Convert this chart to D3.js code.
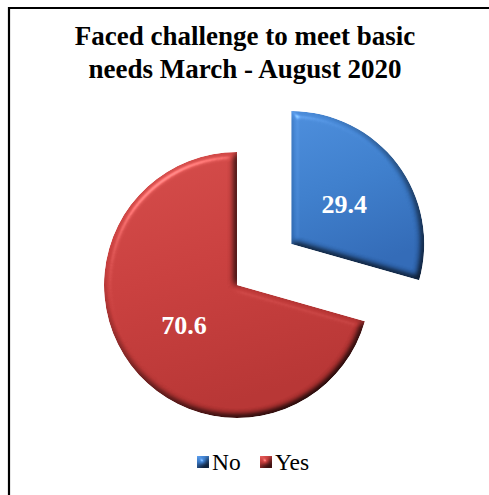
<!DOCTYPE html>
<html>
<head>
<meta charset="utf-8">
<script src="https://cdn.jsdelivr.net/npm/d3@7"></script>
<style>
  html, body { margin: 0; padding: 0; background: #fff; }
  svg { display: block; }
</style>
</head>
<body>
<svg id="chart" width="489" height="495"></svg>
<script>
// Survey answers and their shares (percent)
const categories = ["No", "Yes"];
const values = [29.4, 70.6];
const titleLines = ["Faced challenge to meet basic", "needs March - August 2020"];

const baseColors = { No: "#3c7cc9", Yes: "#c63d3c" };
const lightColors = { No: "#4a8bd9", Yes: "#d24a48" };
const darkColors = { No: "#3068b4", Yes: "#b43332" };

const svg = d3.select("#chart");
const W = 489, H = 495;
svg.append("rect").attr("width", W).attr("height", H).attr("fill", "#fff");

const defs = svg.append("defs");

// Soft bevel: blurred alpha as a height map; flat areas keep their colour,
// slopes facing the upper-left light brighten, the others darken.
const bevel = defs.append("filter").attr("id", "bevel")
  .attr("x", "-10%").attr("y", "-10%").attr("width", "120%").attr("height", "120%")
  .attr("color-interpolation-filters", "sRGB");
bevel.append("feGaussianBlur").attr("in", "SourceAlpha").attr("stdDeviation", 3.5).attr("result", "blur");
const diff = bevel.append("feDiffuseLighting").attr("in", "blur").attr("surfaceScale", 5)
  .attr("diffuseConstant", 1).attr("lighting-color", "#ffffff").attr("result", "diff");
diff.append("feDistantLight").attr("azimuth", 235).attr("elevation", 60);
// normalise so a flat surface gives 1.0
const norm = bevel.append("feComponentTransfer").attr("in", "diff").attr("result", "diffN");
["feFuncR", "feFuncG", "feFuncB"].forEach(f =>
  norm.append(f).attr("type", "linear").attr("slope", 1.155).attr("intercept", 0));
bevel.append("feComposite").attr("in", "SourceGraphic").attr("in2", "diffN")
  .attr("operator", "arithmetic").attr("k1", 1).attr("k2", 0).attr("k3", 0).attr("k4", 0).attr("result", "lit");
const spec = bevel.append("feSpecularLighting").attr("in", "blur").attr("surfaceScale", 5)
  .attr("specularConstant", 0.6).attr("specularExponent", 30).attr("lighting-color", "#ffffff").attr("result", "spec");
spec.append("feDistantLight").attr("azimuth", 235).attr("elevation", 40);
bevel.append("feComposite").attr("in", "spec").attr("in2", "SourceAlpha").attr("operator", "in").attr("result", "specIn");
bevel.append("feComposite").attr("in", "lit").attr("in2", "specIn")
  .attr("operator", "arithmetic").attr("k1", 0).attr("k2", 1).attr("k3", 0.45).attr("k4", 0).attr("result", "shaded");
bevel.append("feComposite").attr("in", "shaded").attr("in2", "SourceAlpha").attr("operator", "in");

// Gradients per category
categories.forEach(c => {
  const g = defs.append("linearGradient").attr("id", "grad-" + c)
    .attr("x1", 0).attr("y1", 0).attr("x2", 0.3).attr("y2", 1);
  g.append("stop").attr("offset", "0%").attr("stop-color", lightColors[c]);
  g.append("stop").attr("offset", "50%").attr("stop-color", baseColors[c]);
  g.append("stop").attr("offset", "100%").attr("stop-color", darkColors[c]);
});

// Frame (top and left edges)
svg.append("path")
  .attr("d", `M9,${H + 5} L9,8 L${W + 5},8`)
  .attr("fill", "none").attr("stroke", "#000").attr("stroke-width", 2.2);

// Title
const title = svg.append("text")
  .attr("text-anchor", "middle")
  .attr("font-family", "'Liberation Serif', 'Times New Roman', serif")
  .attr("font-weight", "bold").attr("font-size", 27).attr("fill", "#000");
titleLines.forEach((t, i) => {
  title.append("tspan").attr("x", 245).attr("y", 45 + i * 33).text(t);
});

// Pie
const cx = 237, cy = 285, radius = 133, explode = 68;
const pie = d3.pie().sort(null).value(d => d.value).startAngle(0).endAngle(2 * Math.PI);
const arc = d3.arc().innerRadius(0).outerRadius(radius);
const labelArc = d3.arc().innerRadius(radius * 0.5).outerRadius(radius * 0.5);
const data = categories.map((c, i) => ({ cat: c, value: values[i] }));
const arcs = pie(data);

const pieG = svg.append("g").attr("transform", `translate(${cx},${cy})`);

const offsetOf = d => {
  if (d.data.cat !== "No") return [0, 0];
  const mid = (d.startAngle + d.endAngle) / 2;
  return [Math.sin(mid) * explode, -Math.cos(mid) * explode];
};

const slices = pieG.selectAll("g.slice").data(arcs).enter().append("g")
  .attr("class", "slice")
  .attr("transform", d => { const o = offsetOf(d); return `translate(${o[0]},${o[1]})`; });

slices.append("path")
  .attr("d", arc)
  .attr("fill", d => `url(#grad-${d.data.cat})`)
  .attr("filter", "url(#bevel)");

slices.append("text")
  .attr("transform", d => `translate(${labelArc.centroid(d)})`)
  .attr("text-anchor", "middle").attr("dy", "0.35em")
  .attr("font-family", "'Liberation Serif', 'Times New Roman', serif")
  .attr("font-weight", "bold").attr("font-size", 26).attr("fill", "#fff")
  .text(d => d3.format(".1f")(d.data.value));

// Legend
const legend = svg.append("g");
const legendX = { No: 197, Yes: 260 };
categories.forEach(c => {
  const g = legend.append("g").attr("transform", `translate(${legendX[c]},456)`);
  g.append("rect").attr("width", 12).attr("height", 12)
    .attr("fill", `url(#grad-${c})`).attr("filter", "url(#bevel)");
  g.append("text").attr("x", 15).attr("y", 13.5)
    .attr("font-family", "'Liberation Serif', 'Times New Roman', serif")
    .attr("font-size", 23.5).attr("fill", "#000").text(c);
});
</script>
</body>
</html>
